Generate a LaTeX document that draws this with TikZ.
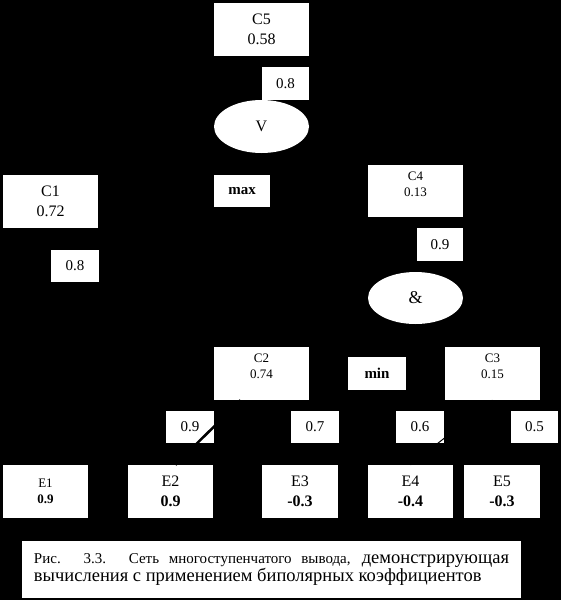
\documentclass[tikz,border=0pt]{standalone}
\usepackage{fontspec}
\setmainfont{Liberation Serif}
\usepackage{xcolor}
\usepackage{tikz}
\usetikzlibrary{positioning, arrows.meta, shapes.geometric}

\begin{document}
\begin{tikzpicture}[x=1pt, y=-1pt,
    cbox/.style={fill=white, inner sep=0pt, minimum width=95pt, minimum height=53pt, align=center, font=\fontsize{16}{20}\selectfont},
    cboxs/.style={cbox, font=\fontsize{13}{16}\selectfont, text depth=14pt},
    wbox/.style={fill=white, inner sep=0pt, minimum width=48pt, minimum height=32pt, font=\fontsize{15}{18}\selectfont},
    opbox/.style={fill=white, inner sep=0pt, minimum height=32pt, font=\bfseries\fontsize{15}{18}\selectfont},
    opnode/.style={ellipse, fill=white, inner sep=0pt, minimum width=95pt, minimum height=53pt, font=\fontsize{16}{20}\selectfont},
    ebox/.style={fill=white, inner sep=0pt, minimum height=53pt, align=center, font=\fontsize{16}{20}\selectfont}]
    \fill[black] (0,0) rectangle (561,600);
    % conclusions and operators
    \node[cbox] (c5) at (261.5,29.5) {C5\\0.58};
    \node[wbox, minimum width=47pt, minimum height=33pt] (w5) at (285.5,83.5) {0.8};
    \node[opnode] (or) at (261.5,126.5) {V};
    \node[opbox, minimum width=56pt] (max) at (242,191) {max};
    \node[cbox] (c1) at (50.5,201.5) {C1\\0.72};
    \node[wbox] (w1) at (75,266) {0.8};
    \node[cboxs, minimum height=52pt] (c4) at (415.5,191) {C4\\0.13};
    \node[wbox, minimum width=46pt, minimum height=33pt] (w4) at (440,244.5) {0.9};
    \node[opnode, minimum height=52pt, font=\fontsize{18}{20}\selectfont] (and) at (415.5,298) {\&};
    \node[cboxs] (c2) at (261.5,373.5) {C2\\0.74};
    \node[opbox, minimum width=58pt, minimum height=33pt] (min) at (377,373.5) {min};
    \node[cboxs] (c3) at (492.5,373.5) {C3\\0.15};
    % weights of the facts
    \node[wbox] (we2) at (190,427) {0.9};
    \node[wbox] (we3) at (315,427) {0.7};
    \node[wbox] (we4) at (420,427) {0.6};
    \node[wbox, minimum width=47pt] (we5) at (534.5,427) {0.5};
    % facts
    \node[ebox, minimum width=85pt, font=\fontsize{13}{16}\selectfont] (e1) at (45.5,491.5) {E1\\\textbf{0.9}};
    \node[ebox, minimum width=85pt] (e2) at (170.5,491.5) {E2\\\textbf{0.9}};
    \node[ebox, minimum width=76pt] (e3) at (300,491.5) {E3\\\textbf{-0.3}};
    \node[ebox, minimum width=85pt] (e4) at (410.5,491.5) {E4\\\textbf{-0.4}};
    \node[ebox, minimum width=76pt] (e5) at (502,491.5) {E5\\\textbf{-0.3}};
    \draw[black, line width=2.5pt] ([xshift=5pt]e2.north) -- ([xshift=-21pt]c2.south);
    \draw[black, line width=1pt] (e4.north) -- (c3.south);
    % caption
    \node[fill=white, inner xsep=12pt, inner ysep=4pt, minimum height=57pt, text width=475pt, align=justify] (cap) at (271.5,569.5)
        {\fontsize{15}{21}\selectfont Рис. 3.3. Сеть многоступенчатого вывода, {\fontsize{18.5}{21}\selectfont демонстрирующая\linebreak
        вычисления с применением биполярных коэффициентов}};
\end{tikzpicture}
\end{document}
